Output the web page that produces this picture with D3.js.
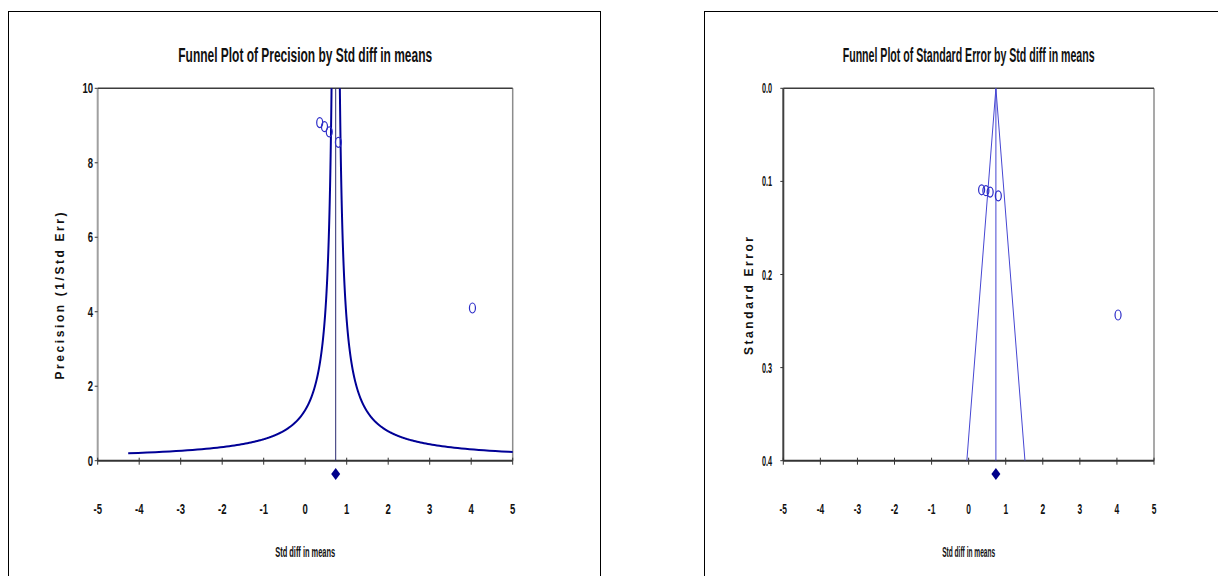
<!DOCTYPE html>
<html>
<head>
<meta charset="utf-8">
<script src="https://cdn.jsdelivr.net/npm/d3@7"></script>
<style>
    body { margin: 0; background: #fff; }
    svg { display: block; }
    .bold { font-family: "Liberation Sans", Arial, sans-serif; font-weight: bold; }
</style>
</head>
<body>
<div id="chart"></div>
<script>

// study values
const studyEffect = [0.35, 0.465, 0.58, 0.80, 4.03];
const studyPrecision = [9.08, 8.97, 8.83, 8.55, 4.1];
const studySE = [0.109, 0.110, 0.1115, 0.1155, 0.2435];
const pooledEffect = 0.735;

// funnel half-width multipliers, as drawn in each plot
const precisionFunnelZ = 1.0;
const seFunnelZ = 1.96;

const xTicks = [-5, -4, -3, -2, -1, 0, 1, 2, 3, 4, 5];
const precisionTicks = [0, 2, 4, 6, 8, 10];
const seTicks = [0, 0.1, 0.2, 0.3, 0.4];

const titles = ["Funnel Plot of Precision by Std diff in means",
                "Funnel Plot of Standard Error by Std diff in means"];
const yTitles = ["Precision (1/Std Err)", "Standard Error"];
const xTitle = "Std diff in means";

let svg = d3.select("#chart").append("svg")
    .attr("width", 1218)
    .attr("height", 576);

svg.append("rect").attr("width", 1218).attr("height", 576).attr("fill", "#fff");

// squeeze a text horizontally (narrow bold look), anchored at x,y
function squeeze(sel, x, y, k){
    sel.attr("transform", `translate(${x},${y}) scale(${k},1)`);
}

// squeeze to a given width
function fitTo(sel, x, y, width){
    let w = sel.node().getComputedTextLength();
    squeeze(sel, x, y, width / w);
}


class FunnelVis {

    constructor(opts){
        Object.assign(this, opts);
        this.initVis();
    }

    initVis(){
        let vis = this;

        // outer chart frame
        svg.append("rect")
            .attr("x", vis.frame.x + 0.5).attr("y", vis.frame.y + 0.5)
            .attr("width", vis.frame.w).attr("height", 700)
            .attr("fill", "none").attr("stroke", "#000").attr("stroke-width", 1);

        vis.x = d3.scaleLinear().domain([-5, 5]).range([vis.plot.x0, vis.plot.x1]);
        vis.y = d3.scaleLinear().domain(vis.yDomain).range([vis.plot.y1, vis.plot.y0]);

        vis.g = svg.append("g");

        vis.clipId = "clip-" + vis.key;
        vis.g.append("clipPath").attr("id", vis.clipId)
            .append("rect")
            .attr("x", vis.plot.x0).attr("y", vis.plot.y0)
            .attr("width", vis.plot.x1 - vis.plot.x0)
            .attr("height", vis.plot.y1 - vis.plot.y0);

        // title
        let t = vis.g.append("text")
            .attr("class", "bold")
            .attr("text-anchor", "middle")
            .attr("font-size", 20)
            .attr("fill", "#111")
            .text(vis.title);
        fitTo(t, (vis.plot.x0 + vis.plot.x1) / 2, 62, vis.titleLen);

        this.wrangleData();
    }

    wrangleData(){
        let vis = this;

        vis.displayData = studyEffect.map((d, i) => ({x: d, y: vis.yValues[i]}));

        vis.updateVis();
    }

    updateVis(){
        let vis = this;
        let p = vis.plot;

        // plot area borders
        vis.g.append("line").attr("x1", p.x0).attr("x2", p.x0).attr("y1", p.y0).attr("y2", p.y1)
            .attr("stroke", vis.leftBorder).attr("stroke-width", 2);
        vis.g.append("line").attr("x1", p.x1).attr("x2", p.x1).attr("y1", p.y0).attr("y2", p.y1)
            .attr("stroke", "#8c8c8c").attr("stroke-width", 1.5);
        vis.g.append("line").attr("x1", p.x0).attr("x2", p.x1).attr("y1", p.y0).attr("y2", p.y0)
            .attr("stroke", "#3c3c3c").attr("stroke-width", 1.5);

        // x axis along the bottom
        vis.g.append("line").attr("x1", p.x0).attr("x2", p.x1).attr("y1", p.y1).attr("y2", p.y1)
            .attr("stroke", "#333").attr("stroke-width", 2);
        vis.g.selectAll(".xtick").data(xTicks).enter().append("line")
            .attr("x1", d => vis.x(d)).attr("x2", d => vis.x(d))
            .attr("y1", p.y1 - 3).attr("y2", p.y1 + 4)
            .attr("stroke", "#333").attr("stroke-width", 1);
        vis.g.selectAll(".xlab").data(xTicks).enter().append("text")
            .attr("class", "bold")
            .attr("text-anchor", "middle")
            .attr("font-size", 14)
            .attr("fill", "#111")
            .text(d => d)
            .each(function(d){ squeeze(d3.select(this), vis.x(d), 514, vis.squeezeK); });

        // y axis ticks
        vis.g.selectAll(".ytick").data(vis.yTicks).enter().append("line")
            .attr("x1", p.x0 - 3).attr("x2", p.x0)
            .attr("y1", d => vis.y(d)).attr("y2", d => vis.y(d))
            .attr("stroke", "#333").attr("stroke-width", 1);
        vis.g.selectAll(".ylab").data(vis.yTicks).enter().append("text")
            .attr("class", "bold")
            .attr("text-anchor", "end")
            .attr("font-size", 14)
            .attr("fill", "#111")
            .text(vis.yFormat)
            .each(function(d){ squeeze(d3.select(this), vis.yLabelX, vis.y(d) + 5, vis.yLabelK); });

        // axis titles
        let xt = vis.g.append("text")
            .attr("class", "bold")
            .attr("text-anchor", "middle")
            .attr("font-size", 14)
            .attr("fill", "#111")
            .text(xTitle);
        fitTo(xt, (p.x0 + p.x1) / 2, 557, vis.xTitleLen);

        vis.g.append("text")
            .attr("class", "bold")
            .attr("transform", `translate(${vis.yTitleX}, 296) rotate(-90)`)
            .attr("text-anchor", "middle")
            .attr("font-size", 12)
            .attr("textLength", vis.yTitleLen)
            .attr("lengthAdjust", "spacing")
            .attr("fill", "#111")
            .text(vis.yTitle);

        // funnel
        let fun = vis.g.append("g").attr("clip-path", `url(#${vis.clipId})`);
        vis.drawFunnel(fun);

        // pooled effect line
        fun.append("line")
            .attr("x1", vis.x(pooledEffect)).attr("x2", vis.x(pooledEffect))
            .attr("y1", p.y0).attr("y2", p.y1)
            .attr("stroke", vis.meanColor).attr("stroke-width", 1);

        // studies
        vis.g.selectAll(".study").data(vis.displayData).enter().append("ellipse")
            .attr("cx", d => vis.x(d.x)).attr("cy", d => vis.y(d.y))
            .attr("rx", 3).attr("ry", 5)
            .attr("fill", "none").attr("stroke", "#2c2cc8").attr("stroke-width", 1.2);

        // pooled diamond under the axis
        let cx = vis.x(pooledEffect), cy = 474;
        vis.g.append("path")
            .attr("d", `M${cx},${cy - 6}L${cx + 4.5},${cy}L${cx},${cy + 6}L${cx - 4.5},${cy}Z`)
            .attr("fill", "#00008b");
    }

    drawFunnel(fun){
        let vis = this;
        if (vis.key === "prec") {
            let levels = d3.range(0.2, 10.5, 0.01);
            let line = d3.line().x(d => vis.x(d[0])).y(d => vis.y(d[1]));
            [-1, 1].forEach(s => {
                fun.append("path")
                    .attr("d", line(levels.map(pr => [pooledEffect + s * precisionFunnelZ / pr, pr])))
                    .attr("fill", "none").attr("stroke", "#000096").attr("stroke-width", 2);
            });
        } else {
            [-1, 1].forEach(s => {
                fun.append("line")
                    .attr("x1", vis.x(pooledEffect)).attr("y1", vis.y(0))
                    .attr("x2", vis.x(pooledEffect + s * seFunnelZ * 0.4)).attr("y2", vis.y(0.4))
                    .attr("stroke", "#4646d2").attr("stroke-width", 1);
            });
        }
    }
}

new FunnelVis({
    key: "prec",
    frame: {x: 8, y: 11, w: 592},
    plot: {x0: 97.7, x1: 512.7, y0: 88.3, y1: 460.7},
    yDomain: [0, 10],
    yTicks: precisionTicks,
    yValues: studyPrecision,
    yFormat: d => d,
    yLabelX: 93,
    yTitleX: 64,
    yTitle: yTitles[0],
    yTitleLen: 167,
    title: titles[0],
    titleLen: 254,
    xTitleLen: 60,
    squeezeK: 0.68,
    yLabelK: 0.68,
    leftBorder: "#a0a0a0",
    meanColor: "#2a2a70"
});

new FunnelVis({
    key: "se",
    frame: {x: 704, y: 11, w: 600},
    plot: {x0: 783.3, x1: 1154, y0: 88.3, y1: 460.7},
    yDomain: [0.4, 0],
    yTicks: seTicks,
    yValues: studySE,
    yFormat: d3.format(".1f"),
    yLabelX: 772,
    yTitleX: 753,
    yTitle: yTitles[1],
    yTitleLen: 118,
    title: titles[1],
    titleLen: 252,
    xTitleLen: 53,
    squeezeK: 0.6,
    yLabelK: 0.52,
    leftBorder: "#404040",
    meanColor: "#4646d2"
});

</script>
</body>
</html>
